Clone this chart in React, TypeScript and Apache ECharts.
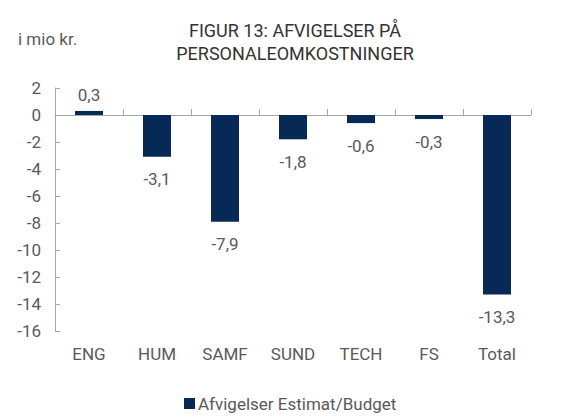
import React, { useEffect, useRef } from "react";
import * as echarts from "echarts";

const categories = ["ENG", "HUM", "SAMF", "SUND", "TECH", "FS", "Total"];
const values = [0.3, -3.1, -7.9, -1.8, -0.6, -0.3, -13.3];
const seriesName = "Afvigelser Estimat/Budget";
const titleText = "FIGUR 13: AFVIGELSER PÅ\nPERSONALEOMKOSTNINGER";
const unitText = "i mio kr.";

const FONT = "Roboto";
const GREY = "#595959";
const NAVY = "#062a55";

export default function App() {
  const ref = useRef<HTMLDivElement>(null);
  useEffect(() => {
    document.body.style.margin = "0";
    if (!ref.current) return;
    const chart = echarts.init(ref.current, undefined, { renderer: "svg" });
    chart.setOption({
      animation: false,
      backgroundColor: "#ffffff",
      textStyle: { fontFamily: FONT },
      title: {
        text: titleText,
        left: 290,
        textAlign: "center",
        top: 14,
        textStyle: {
          fontFamily: FONT,
          fontSize: 18,
          fontWeight: "normal",
          color: "#333333",
          lineHeight: 23,
        },
      },
      graphic: [
        {
          type: "text",
          left: 18,
          top: 30,
          style: { text: unitText, font: `17px ${FONT}`, fill: GREY },
        },
      ],
      legend: {
        data: [seriesName],
        left: 184,
        top: 395,
        padding: 0,
        icon: "rect",
        itemWidth: 11,
        itemHeight: 11,
        itemGap: 4,
        textStyle: { fontFamily: FONT, fontSize: 17, color: GREY, padding: [0, 0, 0, -2] },
      },
      grid: { left: 55, right: 53, top: 88, bottom: 86, containLabel: false },
      xAxis: [
        {
          type: "category",
          data: categories,
          position: "bottom",
          axisLine: { show: false, onZero: false },
          axisTick: { show: false },
          axisLabel: { fontFamily: FONT, fontSize: 17, color: GREY, margin: 14 },
        },
        {
          type: "category",
          data: categories,
          position: "bottom",
          axisLine: { show: true, onZero: true, lineStyle: { color: "#a6a6a6", width: 1 } },
          axisTick: { show: true, inside: true, length: 6, lineStyle: { color: "#a6a6a6" } },
          axisLabel: { show: false },
        },
      ],
      yAxis: {
        type: "value",
        min: -16,
        max: 2,
        interval: 2,
        axisLine: { show: true, lineStyle: { color: "#a6a6a6" } },
        axisTick: { show: true, inside: true, length: 5, lineStyle: { color: "#a6a6a6" } },
        splitLine: { show: false },
        axisLabel: { fontFamily: FONT, fontSize: 17, color: GREY, margin: 14 },
      },
      series: [
        {
          name: seriesName,
          type: "bar",
          xAxisIndex: 0,
          barWidth: 28,
          itemStyle: { color: NAVY },
          data: values.map((v) => ({
            value: v,
            label: { position: v >= 0 ? "top" : "bottom", distance: v >= 0 ? 7 : 14 },
          })),
          label: {
            show: true,
            fontFamily: FONT,
            fontSize: 17,
            color: GREY,
            formatter: (p: any) => Number(p.value).toFixed(1).replace(".", ","),
          },
        },
      ],
    });
    return () => chart.dispose();
  }, []);
  return <div ref={ref} style={{ width: 584, height: 417 }} />;
}
